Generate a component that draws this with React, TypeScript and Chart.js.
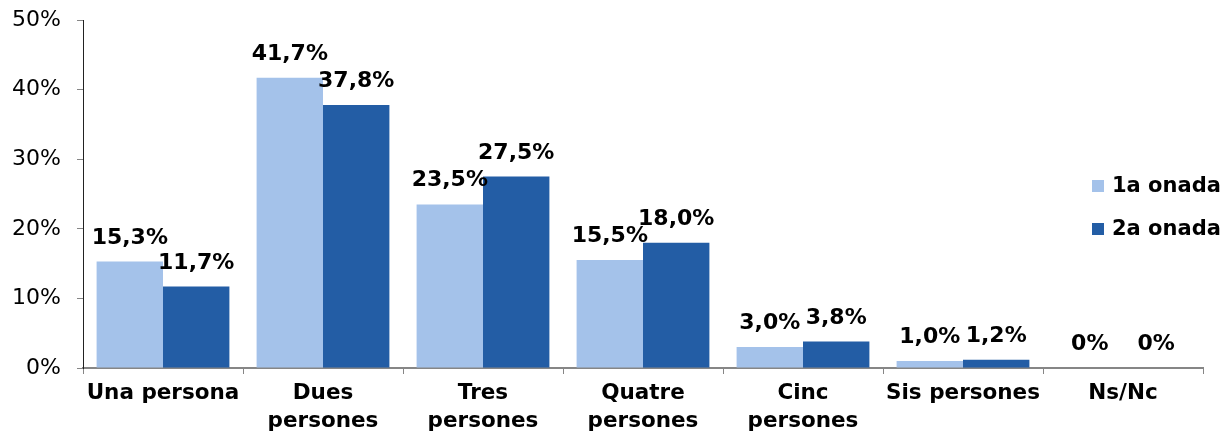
import React, { useEffect, useRef } from "react";
import { Chart, registerables } from "chart.js";

Chart.register(...registerables);

const categories: (string | string[])[] = [
  "Una persona",
  ["Dues", "persones"],
  ["Tres", "persones"],
  ["Quatre", "persones"],
  ["Cinc", "persones"],
  "Sis persones",
  "Ns/Nc",
];
const seriesNames = ["1a onada", "2a onada"];
const onada1 = [15.3, 41.7, 23.5, 15.5, 3.0, 1.0, 0];
const onada2 = [11.7, 37.8, 27.5, 18.0, 3.8, 1.2, 0];
const colors = ["#A4C2EA", "#235DA5"];
const yTicks = [0, 10, 20, 30, 40, 50];

const FONT = "'DejaVu Sans', Verdana, sans-serif";

const fmt = (v: number) => (v === 0 ? "0%" : v.toFixed(1).replace(".", ",") + "%");

const labelPlugin = {
  id: "barLabels",
  afterDatasetsDraw(chart: any) {
    const ctx = chart.ctx;
    ctx.save();
    ctx.font = `bold 22px ${FONT}`;
    ctx.fillStyle = "#000";
    ctx.textAlign = "center";
    ctx.textBaseline = "alphabetic";
    chart.data.datasets.forEach((ds: any, i: number) => {
      const meta = chart.getDatasetMeta(i);
      meta.data.forEach((bar: any, j: number) => {
        const v = ds.data[j];
        ctx.fillText(fmt(v), bar.x, bar.y - 18);
      });
    });
    ctx.restore();
  },
};

const legendPlugin = {
  id: "customLegend",
  afterDraw(chart: any) {
    const ctx = chart.ctx;
    ctx.save();
    ctx.font = `bold 21px ${FONT}`;
    ctx.textAlign = "left";
    ctx.textBaseline = "middle";
    chart.data.datasets.forEach((ds: any, i: number) => {
      const cy = 186 + i * 43;
      ctx.fillStyle = ds.backgroundColor;
      ctx.fillRect(1092, cy - 6, 12, 12);
      ctx.fillStyle = "#000";
      ctx.fillText(ds.label, 1112, cy + 1);
    });
    ctx.restore();
  },
};

export default function App() {
  const ref = useRef<HTMLCanvasElement>(null);
  useEffect(() => {
    if (!ref.current) return;
    const chart = new Chart(ref.current, {
      type: "bar",
      data: {
        labels: categories,
        datasets: [
          { label: seriesNames[0], data: onada1, backgroundColor: colors[0] },
          { label: seriesNames[1], data: onada2, backgroundColor: colors[1] },
        ],
      },
      options: {
        animation: false,
        responsive: false,
        maintainAspectRatio: false,
        layout: { padding: { top: 20, left: 0, right: 21, bottom: 0 } },
        datasets: { bar: { barPercentage: 1, categoryPercentage: 0.83 } },
        plugins: {
          legend: { display: false },
          tooltip: { enabled: false },
        },
        scales: {
          x: {
            afterFit: (s: any) => {
              s.height = 66;
            },
            grid: {
              offset: true,
              drawOnChartArea: false,
              drawTicks: true,
              tickLength: 6,
              color: "#868686",
            },
            border: { color: "#868686", width: 2 },
            ticks: {
              color: "#000",
              font: { family: FONT, size: 21.5, weight: "bold", lineHeight: 1.28 },
              padding: 6,
              maxRotation: 0,
              autoSkip: false,
            },
          },
          y: {
            min: 0,
            max: 50,
            afterFit: (s: any) => {
              s.width = 83;
              s.paddingTop = 0;
              s.paddingBottom = 0;
            },
            afterBuildTicks: (s: any) => {
              s.ticks = yTicks.map((v) => ({ value: v }));
            },
            grid: {
              drawOnChartArea: false,
              drawTicks: true,
              tickLength: 6,
              color: "#868686",
            },
            border: { color: "#222", width: 1 },
            ticks: {
              color: "#000",
              font: { family: FONT, size: 22 },
              padding: 16,
              callback: (v: any) => v + "%",
            },
          },
        },
      },
      plugins: [labelPlugin, legendPlugin],
    });
    return () => chart.destroy();
  }, []);
  return (
    <div style={{ position: "fixed", left: 0, top: 0, width: 1224, height: 434, background: "#fff" }}>
      <canvas ref={ref} width={1224} height={434} style={{ width: 1224, height: 434 }} />
    </div>
  );
}
